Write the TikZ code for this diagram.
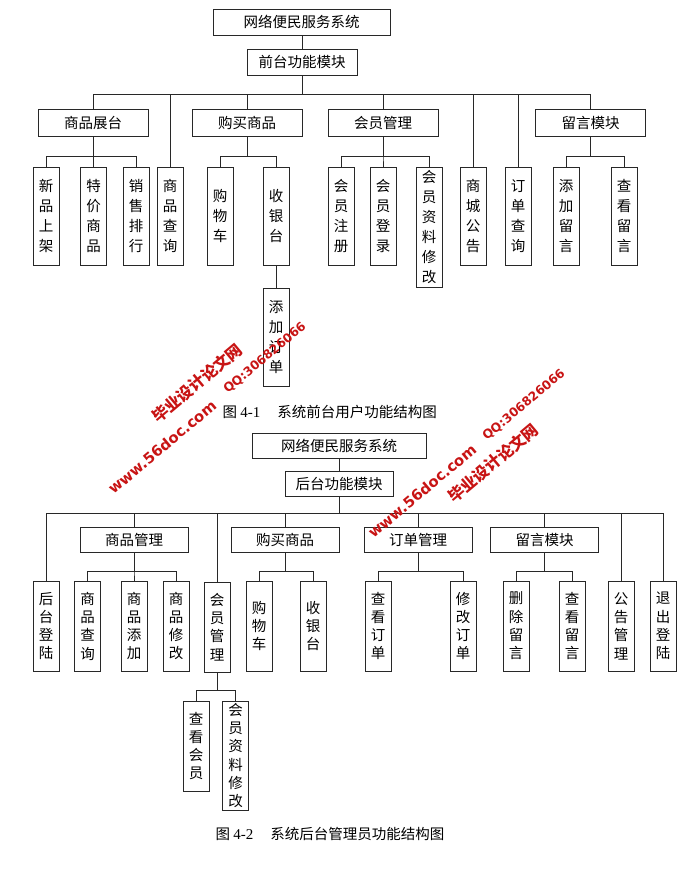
\documentclass[tikz,border=0pt]{standalone}
\usepackage{fontspec}
\setmainfont{Liberation Serif}
\newfontfamily\cjk{Noto Sans CJK SC}
\newfontfamily\wmfont{DejaVu Sans}
\definecolor{wmred}{RGB}{200,20,20}
\definecolor{ln}{RGB}{40,40,40}
\tikzset{
  hbox/.style={draw=ln, line width=0.8pt, inner sep=0pt, font=\cjk\fontsize{14.5}{17}\selectfont},
  vbox/.style={draw=ln, line width=0.8pt, inner sep=0pt, minimum width=26pt, align=center, font=\cjk\fontsize{14.5}{20}\selectfont},
  vboxb/.style={vbox, font=\cjk\fontsize{14.5}{18.3}\selectfont},
  conn/.style={draw=ln, line width=0.8pt},
  wm/.style={text=wmred, rotate=40, inner sep=0pt},
  captext/.style={anchor=west, inner sep=0pt}
}
\begin{document}
\begin{tikzpicture}[x=1pt,y=-1pt]
\useasboundingbox (0,0) rectangle (697,869);
% ---------- top diagram ----------
\node[hbox, minimum width=177pt, minimum height=26pt] (sys1) at (301.5,22) {网络便民服务系统};
\node[hbox, minimum width=110pt, minimum height=26pt] (front) at (302,62) {前台功能模块};
\coordinate (busA) at (0,94);
\coordinate (busB) at (0,156);
\node[hbox, minimum width=110pt, minimum height=27pt] (spzt) at (93,122.5) {商品展台};
\node[hbox, minimum width=110pt, minimum height=27pt] (gmspA) at (247,122.5) {购买商品};
\node[hbox, minimum width=110pt, minimum height=27pt] (hyglA) at (383,122.5) {会员管理};
\node[hbox, minimum width=110pt, minimum height=27pt] (lymkA) at (590.5,122.5) {留言模块};
\node[vbox, minimum height=98pt] (xpsj) at (46,216) {新\\品\\上\\架};
\node[vbox, minimum height=98pt] (tjsp) at (93.5,216) {特\\价\\商\\品};
\node[vbox, minimum height=98pt] (xsph) at (136,216) {销\\售\\排\\行};
\node[vbox, minimum height=98pt] (spcxA) at (170,216) {商\\品\\查\\询};
\node[vbox, minimum height=98pt] (gwcA) at (220,216) {购\\物\\车};
\node[vbox, minimum height=98pt] (sytA) at (276,216) {收\\银\\台};
\node[vbox, minimum height=98pt] (hyzc) at (341,216) {会\\员\\注\\册};
\node[vbox, minimum height=98pt] (hydl) at (383,216) {会\\员\\登\\录};
\node[vbox, minimum height=120pt] (hyzlA) at (429,227) {会\\员\\资\\料\\修\\改};
\node[vbox, minimum height=98pt] (scgg) at (473,216) {商\\城\\公\\告};
\node[vbox, minimum height=98pt] (ddcx) at (518,216) {订\\单\\查\\询};
\node[vbox, minimum height=98pt] (tjly) at (566,216) {添\\加\\留\\言};
\node[vbox, minimum height=98pt] (cklyA) at (624,216) {查\\看\\留\\言};
\node[vbox, minimum height=98pt] (tjdd) at (276,337) {添\\加\\订\\单};
\draw[conn] (front.north) -- (front.north |- sys1.south);
\foreach \c in {spzt,spcxA,gmspA,hyglA,scgg,ddcx,lymkA}
  \draw[conn] (front.south) |- (\c.north |- busA) -- (\c.north);
\foreach \c in {xpsj,tjsp,xsph}
  \draw[conn] (spzt.south) |- (\c.north |- busB) -- (\c.north);
\foreach \c in {gwcA,sytA}
  \draw[conn] (gmspA.south) |- (\c.north |- busB) -- (\c.north);
\foreach \c in {hyzc,hydl,hyzlA}
  \draw[conn] (hyglA.south) |- (\c.north |- busB) -- (\c.north);
\foreach \c in {tjly,cklyA}
  \draw[conn] (lymkA.south) |- (\c.north |- busB) -- (\c.north);
\draw[conn] (sytA.south) -- (tjdd.north);
\node[captext] (capA) at (222.5,412) {\cjk\fontsize{14.5}{17}\selectfont 图 {\rmfamily\fontsize{15}{17}\selectfont 4-1}\hspace{17pt}系统前台用户功能结构图};
% ---------- bottom diagram ----------
\node[hbox, minimum width=174pt, minimum height=25pt] (sys2) at (339,445.5) {网络便民服务系统};
\node[hbox, minimum width=108pt, minimum height=25pt] (back) at (339,483.5) {后台功能模块};
\coordinate (busC) at (0,513);
\coordinate (busD) at (0,571);
\coordinate (busE) at (0,690);
\node[hbox, minimum width=108pt, minimum height=25pt] (spgl) at (134,540) {商品管理};
\node[hbox, minimum width=108pt, minimum height=25pt] (gmspB) at (285,540) {购买商品};
\node[hbox, minimum width=108pt, minimum height=25pt] (ddgl) at (418,540) {订单管理};
\node[hbox, minimum width=108pt, minimum height=25pt] (lymkB) at (544.5,540) {留言模块};
\node[vboxb, minimum height=90pt] (htdl) at (46,626) {后\\台\\登\\陆};
\node[vboxb, minimum height=90pt] (spcxB) at (87.5,626) {商\\品\\查\\询};
\node[vboxb, minimum height=90pt] (sptj) at (134,626) {商\\品\\添\\加};
\node[vboxb, minimum height=90pt] (spxg) at (176,626) {商\\品\\修\\改};
\node[vboxb, minimum height=90pt] (hyglB) at (217,627) {会\\员\\管\\理};
\node[vboxb, minimum height=90pt] (gwcB) at (259,626) {购\\物\\车};
\node[vboxb, minimum height=90pt] (sytB) at (313,626) {收\\银\\台};
\node[vboxb, minimum height=90pt] (ckdd) at (378,626) {查\\看\\订\\单};
\node[vboxb, minimum height=90pt] (xgdd) at (463,626) {修\\改\\订\\单};
\node[vboxb, minimum height=90pt] (scly) at (516,626) {删\\除\\留\\言};
\node[vboxb, minimum height=90pt] (cklyB) at (572,626) {查\\看\\留\\言};
\node[vboxb, minimum height=90pt] (gggl) at (621,626) {公\\告\\管\\理};
\node[vboxb, minimum height=90pt] (tcdl) at (663,626) {退\\出\\登\\陆};
\node[vboxb, minimum height=90pt] (ckhy) at (196,746) {查\\看\\会\\员};
\node[vboxb, minimum height=109pt] (hyzlB) at (235.5,755.5) {会\\员\\资\\料\\修\\改};
\draw[conn] (back.north) -- (back.north |- sys2.south);
\foreach \c in {htdl,spgl,hyglB,gmspB,ddgl,lymkB,gggl,tcdl}
  \draw[conn] (back.south) |- (\c.north |- busC) -- (\c.north);
\foreach \c in {spcxB,sptj,spxg}
  \draw[conn] (spgl.south) |- (\c.north |- busD) -- (\c.north);
\foreach \c in {gwcB,sytB}
  \draw[conn] (gmspB.south) |- (\c.north |- busD) -- (\c.north);
\foreach \c in {ckdd,xgdd}
  \draw[conn] (ddgl.south) |- (\c.north |- busD) -- (\c.north);
\foreach \c in {scly,cklyB}
  \draw[conn] (lymkB.south) |- (\c.north |- busD) -- (\c.north);
\foreach \c in {ckhy,hyzlB}
  \draw[conn] (hyglB.south) |- (\c.north |- busE) -- (\c.north);
\node[captext] (capB) at (215.5,834) {\cjk\fontsize{14.5}{17}\selectfont 图 {\rmfamily\fontsize{15}{17}\selectfont 4-2}\hspace{17pt}系统后台管理员功能结构图};
% ---------- watermarks ----------
\node[wm, font=\cjk\bfseries\fontsize{16}{16}\selectfont] (wmA1) at (197,383) {毕业设计论文网};
\node[wm, font=\wmfont\bfseries\fontsize{12.3}{12}\selectfont] (wmA2) at (265,358) {QQ:306826066};
\node[wm, font=\wmfont\bfseries\fontsize{14.8}{15}\selectfont] (wmA3) at (162,447) {www.56doc.com};
\node[wm, font=\wmfont\bfseries\fontsize{14.8}{15}\selectfont] (wmB1) at (422,491) {www.56doc.com};
\node[wm, font=\wmfont\bfseries\fontsize{12.3}{12}\selectfont] (wmB2) at (524,405) {QQ:306826066};
\node[wm, font=\cjk\bfseries\fontsize{16}{16}\selectfont] (wmB3) at (493,463) {毕业设计论文网};
\end{tikzpicture}
\end{document}
